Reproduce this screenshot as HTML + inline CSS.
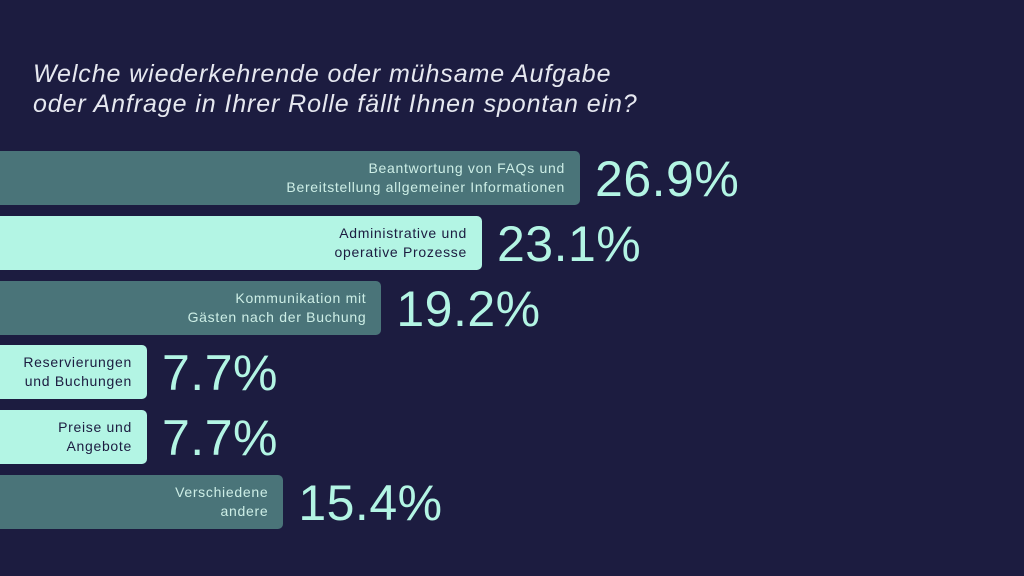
<!DOCTYPE html>
<html><head><meta charset="utf-8"><style>
body{margin:0;width:1024px;height:576px;background:#1c1c40;overflow:hidden;font-family:"Liberation Sans",sans-serif}
#title{position:absolute;left:33px;top:59px;color:#e6e8f0;font-style:italic;font-size:25px;line-height:30px;letter-spacing:0.9px}
.bar{position:absolute;left:0;height:54px;border-radius:0 5px 5px 0;box-sizing:border-box;padding-right:15px;display:flex;align-items:center;justify-content:flex-end;text-align:right;font-size:14px;line-height:19px;letter-spacing:0.7px;white-space:nowrap}
.dark{background:#4a7479;color:#cdeee6}
.light{background:#b3f5e4;color:#1c1c40}
.pct{position:absolute;color:#b3f5e4;font-size:50px;line-height:54px;letter-spacing:0.5px}
</style></head><body>
<div id="title">Welche wiederkehrende oder mühsame Aufgabe<br>oder Anfrage in Ihrer Rolle fällt Ihnen spontan ein?</div>
<div id="chart"></div>
<script>
const categories=["Beantwortung von FAQs und<br>Bereitstellung allgemeiner Informationen","Administrative und<br>operative Prozesse","Kommunikation mit<br>Gästen nach der Buchung","Reservierungen<br>und Buchungen","Preise und<br>Angebote","Verschiedene<br>andere"];
const values=[26.9,23.1,19.2,7.7,7.7,15.4];
const styles=["dark","light","dark","light","light","dark"];
const chart=document.getElementById('chart');
function xScale(v){return Math.max(147,-114+25.8*v);}
function yPos(i){return 151+i*64.8;}
values.forEach((v,i)=>{
  const w=xScale(v),y=yPos(i);
  const b=document.createElement('div');
  b.className='bar '+styles[i];
  b.style.top=y+'px';b.style.width=w+'px';
  b.innerHTML=categories[i];
  
  
  chart.appendChild(b);
  const p=document.createElement('div');
  p.className='pct';
  p.style.top=(y+1)+'px';p.style.left=(w+15)+'px';
  p.textContent=v.toFixed(1)+'%';
  
  
  chart.appendChild(p);
});
</script>
</body></html>
